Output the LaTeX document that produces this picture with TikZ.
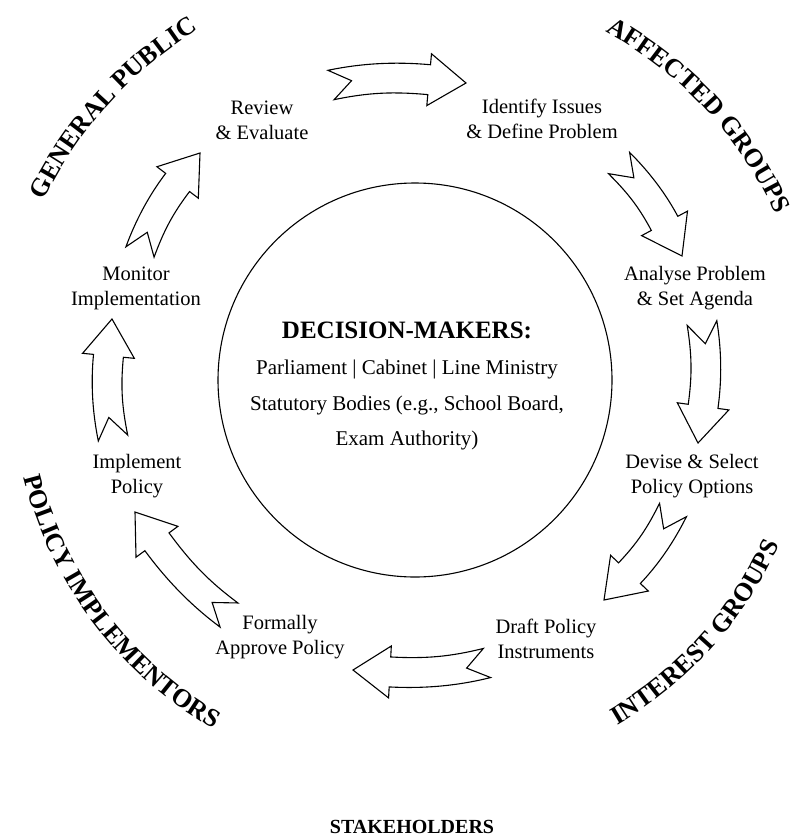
\documentclass[tikz,border=0pt]{standalone}
\usepackage{fontspec}
\setmainfont{Liberation Serif}
\usetikzlibrary{calc,decorations.text}
\newcommand\cornerfont{\bfseries\fontsize{26}{26}\selectfont}
\tikzset{
  steplabel/.style={font=\fontsize{20.5}{25}\selectfont, align=center, inner sep=0pt},
  arrowbox/.style={draw=black, fill=white, line width=1.1pt, line join=miter},
  cornerlabel/.style={decorate, decoration={text along path, text align=center, text={#1}}},
}
\newcommand\cyclearrow[2]{%
  \pgfpointanchor{#1}{center}\pgfgetlastxy{\cax}{\cay}%
  \pgfpointanchor{#2}{center}\pgfgetlastxy{\cbx}{\cby}%
  \pgfmathsetmacro\cth{atan2((\cby)-(\cay),(\cbx)-(\cax))}%
  \pgfmathsetmacro\clen{veclen((\cbx)-(\cax),(\cby)-(\cay))}%
  \pgfmathsetmacro\ctA{\cth+11}%
  \pgfmathsetmacro\ctH{\cth-6}%
  \pgfmathsetmacro\ck{(\clen-37)/2.8}%
  \coordinate (hb) at ([shift={(\ctH+180:37pt)}]#2);
  \draw[arrowbox] ([shift={(\ctA+90:15pt)}]#1)
    .. controls +(\ctA:\ck pt) and +(\ctH+180:\ck pt) .. ([shift={(\ctH+90:15pt)}]hb)
    -- ([shift={(\ctH+90:26pt)}]hb) -- (#2) -- ([shift={(\ctH-90:26pt)}]hb)
    -- ([shift={(\ctH-90:15pt)}]hb)
    .. controls +(\ctH+180:\ck pt) and +(\ctA:\ck pt) .. ([shift={(\ctA-90:15pt)}]#1)
    -- ([shift={(\ctA:21pt)}]#1) -- cycle;
}
\begin{document}
\begin{tikzpicture}[x=1pt,y=1pt]
\useasboundingbox (0,0) rectangle (795,-838);
% central circle
\node[draw, circle, line width=1.1pt, minimum size=394pt, inner sep=0pt] (dm) at (415,-380) {};
\node[font=\bfseries\fontsize{25}{25}\selectfont, inner sep=0pt] (dmtitle) at (407,-330) {DECISION-MAKERS:};
\node[font=\fontsize{21}{35.5}\selectfont, align=center, inner sep=0pt] (dmbody) at (407,-405)
  {Parliament | Cabinet | Line Ministry\\ Statutory Bodies (e.g., School Board,\\ Exam Authority)};
% steps
\node[steplabel] (review)  at (262,-120) {Review\\ \& Evaluate};
\node[steplabel] (identify) at (542,-119) {Identify Issues\\ \& Define Problem};
\node[steplabel] (analyse) at (695,-288) {Analyse Problem\\ \& Set Agenda};
\node[steplabel] (devise)  at (692,-476) {Devise \& Select\\ Policy Options};
\node[steplabel] (draft)   at (546,-639) {Draft Policy\\ Instruments};
\node[steplabel] (approve) at (280,-637) {Formally\\ Approve Policy};
\node[steplabel] (implement) at (137,-476) {Implement\\ Policy};
\node[steplabel] (monitor) at (136,-288) {Monitor\\ Implementation};
% arrow ends
\coordinate (a1s) at (331,-85);  \coordinate (a1e) at (466,-83);
\coordinate (a2s) at (619,-163); \coordinate (a2e) at (682,-256);
\coordinate (a3s) at (702,-323); \coordinate (a3e) at (698,-443);
\coordinate (a4s) at (673,-510); \coordinate (a4e) at (604,-600);
\coordinate (a5s) at (487,-663); \coordinate (a5e) at (353,-670);
\coordinate (a6s) at (229,-615); \coordinate (a6e) at (135,-512);
\coordinate (a7s) at (113,-438); \coordinate (a7e) at (112,-319);
\coordinate (a8s) at (140,-252); \coordinate (a8e) at (200,-153);
\cyclearrow{a1s}{a1e}
\cyclearrow{a2s}{a2e}
\cyclearrow{a3s}{a3e}
\cyclearrow{a4s}{a4e}
\cyclearrow{a5s}{a5e}
\cyclearrow{a6s}{a6e}
\cyclearrow{a7s}{a7e}
\cyclearrow{a8s}{a8e}
% stakeholder groups along arcs
\path[cornerlabel={|\cornerfont|GENERAL PUBLIC}] ([shift={(165:412pt)}]dm.center) arc[start angle=165, end angle=111, radius=412pt];
\path[cornerlabel={|\cornerfont|AFFECTED GROUPS}] ([shift={(70:397pt)}]dm.center) arc[start angle=70, end angle=16, radius=397pt];
\path[cornerlabel={|\cornerfont|INTEREST GROUPS}] ([shift={(-69:400pt)}]dm.center) arc[start angle=-69, end angle=-15, radius=400pt];
\path[cornerlabel={|\cornerfont|POLICY IMPLEMENTORS}] ([shift={(184:403pt)}]dm.center) arc[start angle=184, end angle=250, radius=403pt];
\node[font=\bfseries\fontsize{20}{20}\selectfont, inner sep=0pt] (stake) at (412,-827) {STAKEHOLDERS};
\end{tikzpicture}
\end{document}
